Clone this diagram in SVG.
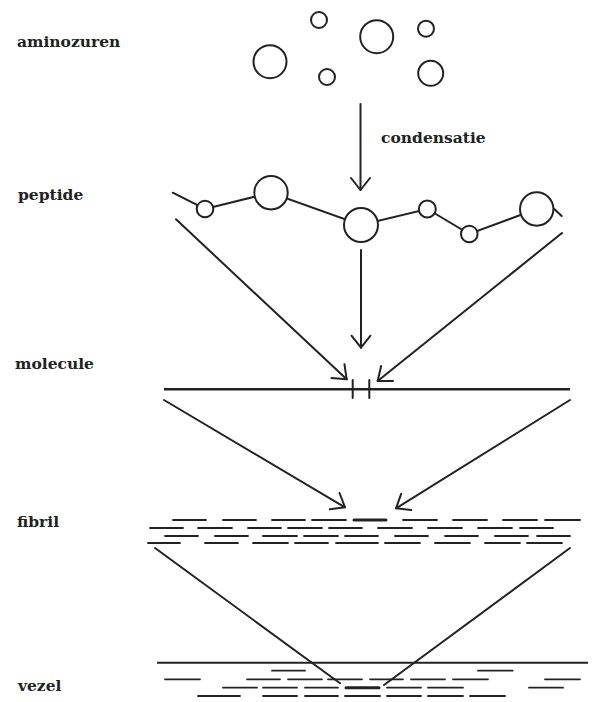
<svg xmlns="http://www.w3.org/2000/svg" width="596" height="702" viewBox="0 0 596 702">
<defs>
<style>
.lbl{font-family:"DejaVu Serif","Liberation Serif",serif;font-weight:bold;font-size:15.5px;fill:#222}
.c{fill:#fff;stroke:#222;stroke-width:2}
.ln{fill:none;stroke:#222;stroke-width:2;stroke-linecap:round}
.d{stroke:#222;stroke-width:1.8;stroke-linecap:round}
.dt{stroke:#222;stroke-width:3;stroke-linecap:round}
</style>
<marker id="ah" viewBox="-2 -11 16 22" refX="12" refY="0" markerWidth="16" markerHeight="22" markerUnits="userSpaceOnUse" orient="auto">
<path d="M0,-9.5 L12,0 L0,9.5" fill="none" stroke="#222" stroke-width="2" stroke-linecap="round" stroke-linejoin="round"/>
</marker>
</defs>
<rect width="596" height="702" fill="#fff"/>

<g id="aminozuren">
<text class="lbl" x="17" y="47">aminozuren</text>
<circle class="c" cx="319" cy="20" r="8"/>
<circle class="c" cx="376.7" cy="36.7" r="16.5"/>
<circle class="c" cx="426" cy="28.7" r="8"/>
<circle class="c" cx="270" cy="61.7" r="16.5"/>
<circle class="c" cx="327" cy="77" r="8"/>
<circle class="c" cx="430.7" cy="73.3" r="12.5"/>
</g>

<g id="peptide">
<text class="lbl" x="18" y="200">peptide</text>
<polyline class="ln" points="172.7,192.7 205,209 271,192.7 361,225 427.3,209 469.3,234 536.7,209"/>
<line class="ln" x1="550" y1="205" x2="561.7" y2="216"/>
<circle class="c" cx="205" cy="209" r="8.3"/>
<circle class="c" cx="271" cy="192.7" r="16.7"/>
<circle class="c" cx="361" cy="225" r="17"/>
<circle class="c" cx="427.3" cy="209" r="8.5"/>
<circle class="c" cx="469.3" cy="234" r="8.3"/>
<circle class="c" cx="536.7" cy="209" r="16.7"/>
</g>

<g id="molecule">
<text class="lbl" x="15" y="369">molecule</text>
<line x1="164" y1="389.3" x2="570" y2="389.3" stroke="#222" stroke-width="2.4"/>
<line class="ln" x1="352.7" y1="380" x2="352.7" y2="398"/>
<line class="ln" x1="369.3" y1="380" x2="369.3" y2="398"/>
</g>

<g id="fibril">
<text class="lbl" x="17" y="527">fibril</text>
<path class="d" d="M173,520H206M223,520H256M272,520H305M312,520H346M403,520H437M453,520H487M503,520H537M545,520H580
M150,528H183M198,528H232M248,528H281M288,528H322M329,528H362M378,528H412M428,528H462M478,528H512M520,528H553
M165,536H198M215,536H248M263,536H297M304,536H338M345,536H378M395,536H428M445,536H478M495,536H528M537,536H570
M148,543H180M205,543H238M253,543H288M295,543H328M336,543H378M385,543H420M435,543H470M485,543H520M527,543H562"/>
<path class="dt" d="M354,520H386"/>
</g>

<g id="vezel">
<text class="lbl" x="18" y="691">vezel</text>
<line x1="157" y1="662.7" x2="588" y2="662.7" stroke="#222" stroke-width="2"/>
<path class="d" d="M272,670.7H305M478,670.7H512.7
M165,679.3H200M247,679.3H280M288,679.3H322M328,679.3H362M370,679.3H403M411,679.3H445M453,679.3H488M545,679.3H580
M223,687.7H257M263,687.7H297M305,687.7H338M387,687.7H421M428,687.7H463M529,687.7H563
M198,696H240M263,696H297M305,696H338M345,696H380M387,696H421M428,696H463M470,696H505"/>
<path class="dt" d="M346,687.7H379"/>
</g>

<g id="connectors">
<line class="ln" x1="360.5" y1="104" x2="360.5" y2="190" marker-end="url(#ah)"/>
<text class="lbl" x="381" y="143">condensatie</text>
<line class="ln" x1="176" y1="219.3" x2="346.7" y2="379.3" marker-end="url(#ah)"/>
<line class="ln" x1="361" y1="250" x2="361" y2="347.7" marker-end="url(#ah)"/>
<line class="ln" x1="562" y1="233" x2="377.7" y2="381" marker-end="url(#ah)"/>
<line class="ln" x1="164" y1="400" x2="345" y2="507.3" marker-end="url(#ah)"/>
<line class="ln" x1="570" y1="400" x2="396" y2="508.3" marker-end="url(#ah)"/>
<line class="ln" x1="155" y1="548" x2="340" y2="683.3"/>
<line class="ln" x1="570" y1="548" x2="384" y2="685"/>
</g>
</svg>
